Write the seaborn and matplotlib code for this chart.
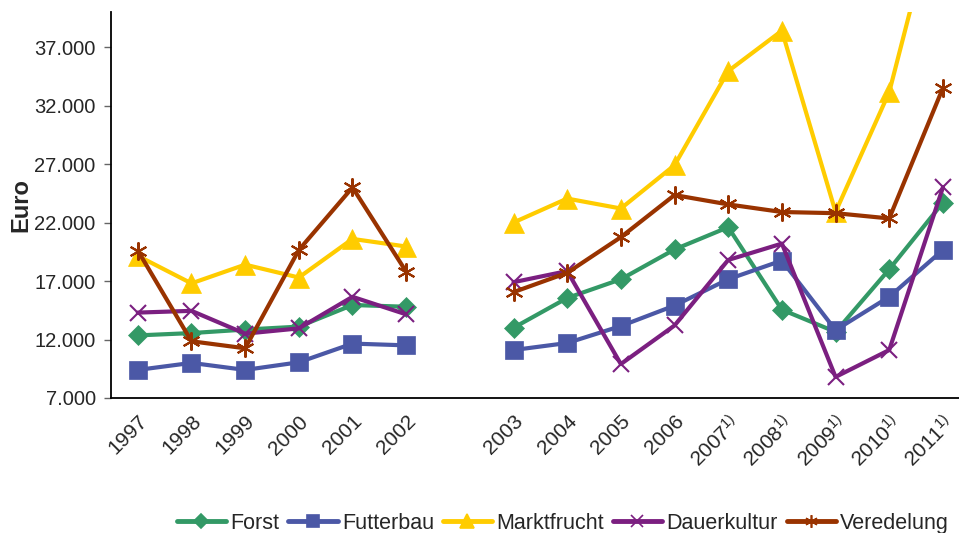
import numpy as np
import pandas as pd
import matplotlib
matplotlib.use("Agg")
import matplotlib.pyplot as plt
from matplotlib.lines import Line2D
from matplotlib.ticker import FuncFormatter, FixedLocator
import seaborn as sns

# Werte je Betriebsform (Euro), Lücke zwischen 2002 und 2003
jahre = ["1997", "1998", "1999", "2000", "2001", "2002", "",
         "2003", "2004", "2005", "2006",
         "2007$^{1)}$", "2008$^{1)}$", "2009$^{1)}$", "2010$^{1)}$", "2011$^{1)}$"]

forst = [12350, 12550, 12850, 13100, 14950, 14800, np.nan,
         13000, 15550, 17150, 19700, 21600, 14550, 12650, 18000, 23700]
futterbau = [9400, 10000, 9400, 10050, 11650, 11500, np.nan,
             11100, 11700, 13150, 14900, 17150, 18750, 12800, 15650, 19650]
marktfrucht = [19150, 16800, 18400, 17300, 20600, 19950, np.nan,
               22000, 24050, 23200, 26900, 34950, 38400, 22900, 33150, 51000]
dauerkultur = [14300, 14450, 12500, 12950, 15650, 14150, np.nan,
               16900, 17850, 9900, 13200, 18800, 20200, 8800, 11100, 25000]
veredelung = [19600, 11850, 11250, 19650, 25000, 17800, np.nan,
              16050, 17700, 20750, 24350, 23550, 22900, 22800, 22350, 33500]

serien = ["Forst", "Futterbau", "Marktfrucht", "Dauerkultur", "Veredelung"]
werte = [forst, futterbau, marktfrucht, dauerkultur, veredelung]
farben = ["#339966", "#4B58A6", "#FFCC00", "#7B1F80", "#993300"]
marker = ["D", "s", "^", "x", (6, 2, 0)]
msize = [10, 13, 14, 12, 13]

rows = []
for name, vals in zip(serien, werte):
    for i, v in enumerate(vals):
        if np.isnan(v):
            continue
        rows.append({"serie": name, "pos": i, "segment": 0 if i < 6 else 1, "euro": v})
df = pd.DataFrame(rows)

sns.set_style("white")
plt.rcParams["font.family"] = ["Liberation Sans", "DejaVu Sans"]
plt.rcParams["mathtext.fontset"] = "custom"
plt.rcParams["mathtext.rm"] = "Liberation Sans"
plt.rcParams["mathtext.it"] = "Liberation Sans:italic"

fig = plt.figure(figsize=(9.59, 5.33), dpi=100)
ax = fig.add_axes([0.1157, 0.2533, 0.8843, 0.7242])

for name, col, m, ms in zip(serien, farben, marker, msize):
    sns.lineplot(data=df[df["serie"] == name], x="pos", y="euro", units="segment",
                 estimator=None, color=col, linewidth=3, marker=m, markersize=ms,
                 markeredgecolor=col, markeredgewidth=1.5 if m in ("x",) or isinstance(m, tuple) else 0.5,
                 ax=ax, legend=False)

ax.set_ylim(7000, 40000)
ax.set_xlim(-0.5, 15.3)
ax.yaxis.set_major_locator(FixedLocator([7000, 12000, 17000, 22000, 27000, 32000, 37000]))
ax.yaxis.set_major_formatter(FuncFormatter(lambda v, p: f"{v:,.0f}".replace(",", ".")))

ax.set_xticks(range(len(jahre)))
ax.set_xticklabels(jahre, rotation=45, ha="right", va="top", rotation_mode="anchor", fontsize=15)
ax.set_xticks(np.arange(-0.5, 15.5, 1), minor=True)
ax.tick_params(axis="x", which="major", length=0, pad=10)
ax.tick_params(axis="x", which="minor", length=6, color="#999999", width=1, direction="out")
ax.tick_params(axis="y", length=5, color="#666666", width=1, labelsize=14.5, left=True,
               direction="out", pad=6)

for s in ["top", "right"]:
    ax.spines[s].set_visible(False)
for s in ["left", "bottom"]:
    ax.spines[s].set_color("black")
    ax.spines[s].set_linewidth(1.3)

ax.set_xlabel("")
ax.set_ylabel("Euro", fontsize=17, fontweight="bold")
ax.yaxis.set_label_coords(-0.093, 0.5)

handles = [Line2D([], [], color=c, linewidth=3.5, marker=m, markersize=s * 0.7,
                  markeredgecolor=c, markeredgewidth=1.2)
           for c, m, s in zip(farben, marker, msize)]
fig.legend(handles, serien, loc="lower right", bbox_to_anchor=(1.01, -0.038), ncol=5,
           frameon=False, fontsize=15.5, handlelength=2.3, handletextpad=0.2,
           columnspacing=0.4)

fig.savefig("out.png", dpi=100)
